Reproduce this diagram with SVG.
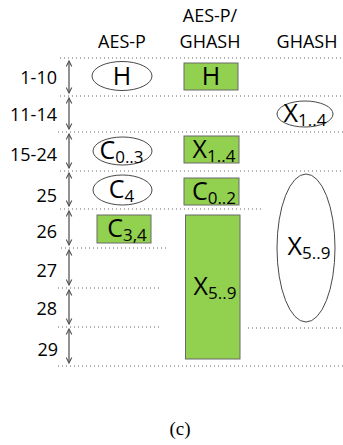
<svg xmlns="http://www.w3.org/2000/svg" width="343" height="445" viewBox="0 0 343 445">
<style>
text{font-family:"Open Sans","Liberation Sans",sans-serif;fill:#000}
.hd{font-size:18px;text-anchor:middle}
.rl{font-size:18px;text-anchor:end}
.nt{font-size:25px;text-anchor:middle}
.sb{font-size:17px}
.dot{stroke:#666;stroke-width:1;stroke-dasharray:1 3;fill:none}
.arr{stroke:#555;stroke-width:1.3;fill:none;marker-start:url(#ah);marker-end:url(#ah)}
.el{fill:#fff;stroke:#333;stroke-width:0.9}
.bx{fill:#92D050;stroke:#6a6a6a;stroke-width:1}
.cap{font-family:"Liberation Serif","DejaVu Serif",serif;font-size:19px;text-anchor:middle}
</style>
<defs>
<marker id="ah" viewBox="0 0 10 10" refX="9" refY="5" markerWidth="7" markerHeight="7" orient="auto-start-reverse" markerUnits="userSpaceOnUse">
<path d="M1,1 L9,5 L1,9" fill="none" stroke="#555" stroke-width="1.6"/>
</marker>
</defs>
<rect width="343" height="445" fill="#fff"/>
<g id="headers">
<text class="hd" x="122" y="48">AES-P</text>
<text class="hd" x="210" y="22">AES-P/</text>
<text class="hd" x="210" y="48">GHASH</text>
<text class="hd" x="307" y="48">GHASH</text>
</g>
<g id="grid">
<line class="dot" x1="60" y1="58" x2="343" y2="58"/>
<line class="dot" x1="60" y1="96" x2="343" y2="96"/>
<line class="dot" x1="58" y1="132" x2="343" y2="132"/>
<line class="dot" x1="60" y1="171" x2="343" y2="171"/>
<line class="dot" x1="60" y1="209" x2="262" y2="209"/>
<line class="dot" x1="61" y1="248" x2="168" y2="248"/>
<line class="dot" x1="58" y1="288" x2="160" y2="288"/>
<line class="dot" x1="58" y1="327" x2="160" y2="327"/>
<line class="dot" x1="248" y1="328" x2="343" y2="328"/>
<line class="dot" x1="58" y1="366" x2="343" y2="366"/>
</g>
<g id="rows">
<text class="rl" x="57" y="84">1-10</text>
<text class="rl" x="57" y="121">11-14</text>
<text class="rl" x="57" y="161">15-24</text>
<text class="rl" x="57" y="202">25</text>
<text class="rl" x="57" y="238">26</text>
<text class="rl" x="57" y="277">27</text>
<text class="rl" x="57" y="315">28</text>
<text class="rl" x="58" y="356">29</text>
</g>
<g id="connectors">
<line class="arr" x1="69" y1="61" x2="69" y2="93"/>
<line class="arr" x1="69" y1="98" x2="69" y2="129"/>
<line class="arr" x1="69" y1="134" x2="69" y2="168"/>
<line class="arr" x1="69" y1="173" x2="69" y2="206"/>
<line class="arr" x1="69" y1="211" x2="69" y2="245"/>
<line class="arr" x1="69" y1="250" x2="69" y2="285"/>
<line class="arr" x1="69" y1="290" x2="69" y2="324"/>
<line class="arr" x1="69" y1="329" x2="69" y2="363"/>
</g>
<g id="n-aes-h">
<ellipse class="el" cx="122" cy="76" rx="30" ry="14.5"/>
<text class="nt" x="122" y="85">H</text>
</g>
<g id="n-mix-h">
<rect class="bx" x="184" y="63" width="54" height="27"/>
<text class="nt" x="211" y="85">H</text>
</g>
<g id="n-gh-x14">
<ellipse class="el" cx="305" cy="114" rx="28" ry="13"/>
<text class="nt" x="305" y="122">X<tspan class="sb" dy="4">1..4</tspan></text>
</g>
<g id="n-aes-c03">
<ellipse class="el" cx="122.5" cy="151" rx="29.5" ry="14"/>
<text class="nt" x="121.5" y="159">C<tspan class="sb" dy="4">0..3</tspan></text>
</g>
<g id="n-mix-x14">
<rect class="bx" x="184" y="136" width="55" height="27"/>
<text class="nt" x="214" y="158">X<tspan class="sb" dy="4">1..4</tspan></text>
</g>
<g id="n-aes-c4">
<ellipse class="el" cx="122.5" cy="190" rx="29.5" ry="15"/>
<text class="nt" x="121.5" y="198">C<tspan class="sb" dy="4">4</tspan></text>
</g>
<g id="n-mix-c02">
<rect class="bx" x="184" y="178" width="55" height="27"/>
<text class="nt" x="214" y="200">C<tspan class="sb" dy="4">0..2</tspan></text>
</g>
<g id="n-gh-x59">
<ellipse class="el" cx="306" cy="248" rx="29" ry="74"/>
<text class="nt" x="309" y="255">X<tspan class="sb" dy="4">5..9</tspan></text>
</g>
<g id="n-aes-c34">
<rect class="bx" x="97" y="215" width="54" height="28"/>
<text class="nt" x="127" y="237">C<tspan class="sb" dy="4">3,4</tspan></text>
</g>
<g id="n-mix-x59">
<rect class="bx" x="185.5" y="215" width="54.5" height="144"/>
<text class="nt" x="215" y="295">X<tspan class="sb" dy="4">5..9</tspan></text>
</g>
<text class="cap" x="180" y="435">(c)</text>
</svg>
